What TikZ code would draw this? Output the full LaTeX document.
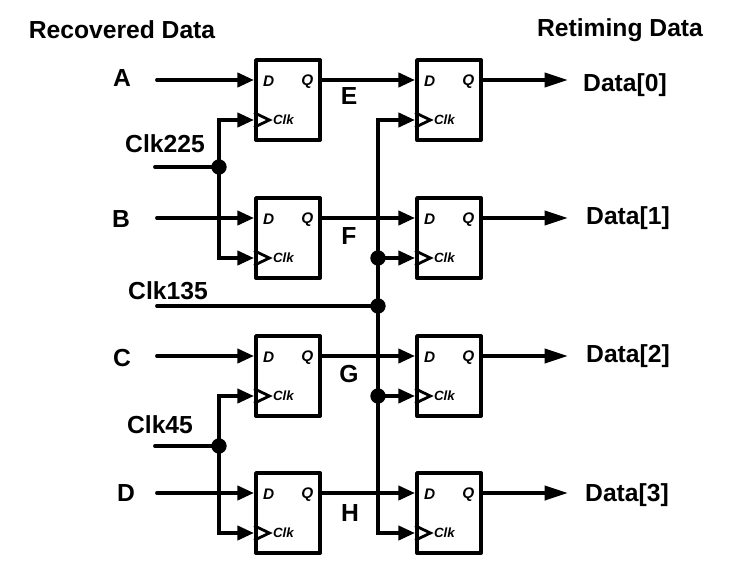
\documentclass[tikz,border=0pt]{standalone}
\usepackage{fontspec}
\setmainfont{Liberation Sans}
\usetikzlibrary{arrows.meta}
\newcommand{\flipflop}[3]{%
  \node[ffbox] (#1) at (#2,#3) {};
  \coordinate (#1d) at ([yshift=15pt]#1.west);
  \coordinate (#1c) at ([yshift=-15pt]#1.west);
  \coordinate (#1q) at ([yshift=15pt]#1.east);
  \draw[clktri] ([yshift=5.5pt]#1c) -- ([xshift=11.5pt]#1c) -- ([yshift=-5.5pt]#1c);
  \node[pinlab] (#1dl) at ([xshift=11pt,yshift=-1pt]#1d) {D};
  \node[pinlab] (#1ql) at ([xshift=-11pt,yshift=-1pt]#1q) {Q};
  \node[clklab] (#1cl) at ([xshift=22pt]#1c) {Clk};
}
\tikzset{
  x=0.75pt,y=-0.75pt,
  ffbox/.style={draw,line width=2.9pt,minimum width=48pt,minimum height=60pt,inner sep=0pt,line join=round},
  clktri/.style={line width=2.1pt,line join=miter},
  pinlab/.style={font=\fontsize{11.5pt}{13pt}\selectfont\bfseries\itshape,inner sep=0pt},
  clklab/.style={font=\fontsize{10pt}{12pt}\selectfont\bfseries\itshape,inner sep=0pt},
  lab/.style={font=\fontsize{18.5pt}{20pt}\selectfont\bfseries,inner sep=0pt},
  wire/.style={line width=2.9pt,line cap=round},
  sigwire/.style={wire,-{Triangle[length=12.5pt,width=10.5pt]}},
  outwire/.style={wire,-{Triangle[length=17.5pt,width=10.5pt]}},
  dot/.style={circle,fill=black,draw=none,minimum size=11.5pt,inner sep=0pt},
}
\begin{document}
\begin{tikzpicture}
\useasboundingbox (0,0) rectangle (735,568);
\flipflop{a}{288}{100}
\flipflop{b}{288}{238}
\flipflop{c}{288}{376}
\flipflop{d}{288}{513}
\flipflop{e}{449}{100}
\flipflop{f}{449}{238}
\flipflop{g}{449}{376}
\flipflop{h}{449}{513}
% free ends
\coordinate (ina) at (157,80);
\coordinate (inb) at (157,218);
\coordinate (inc) at (157,356);
\coordinate (ind) at (157,493);
\coordinate (in225) at (155,167);
\coordinate (in135) at (157,306);
\coordinate (in45) at (155,446);
\coordinate (out0) at (568,80);
\coordinate (out1) at (568,218);
\coordinate (out2) at (568,356);
\coordinate (out3) at (568,493);
% junctions
\node[dot] (j225) at (219,167) {};
\node[dot] (j45) at (219,446) {};
\node[dot] (j135) at (378,306) {};
\node[dot] (jf) at (378,258) {};
\node[dot] (jg) at (378,396) {};
% clock buses
\draw[wire] (j135.center) -- (in135);
\draw[wire] (j225.center) -- (in225);
\draw[wire] (j45.center) -- (in45);
\draw[sigwire] (j225.center) |- (ac);
\draw[sigwire] (j225.center) |- (bc);
\draw[sigwire] (j45.center) |- (cc);
\draw[sigwire] (j45.center) |- (dc);
\draw[sigwire] (j135.center) |- (ec);
\draw[sigwire] (j135.center) |- (hc);
\draw[sigwire] (jf.center) -- (fc);
\draw[sigwire] (jg.center) -- (gc);
% data
\draw[sigwire] (ina) -- (ad);
\draw[sigwire] (inb) -- (bd);
\draw[sigwire] (inc) -- (cd);
\draw[sigwire] (ind) -- (dd);
\draw[sigwire] (aq) -- (ed);
\draw[sigwire] (bq) -- (fd);
\draw[sigwire] (cq) -- (gd);
\draw[sigwire] (dq) -- (hd);
\draw[outwire] (eq) -- (out0);
\draw[outwire] (fq) -- (out1);
\draw[outwire] (gq) -- (out2);
\draw[outwire] (hq) -- (out3);
% labels
\node[lab] (t1) at (122,30) {Recovered Data};
\node[lab] (t2) at (620,30) {Retiming Data};
\node[lab] (la) at (122,78) {A};
\node[lab] (lb) at (121,219) {B};
\node[lab] (lc) at (122,358) {C};
\node[lab] (ld) at (126,493) {D};
\node[lab] (l225) at (165,144) {Clk225};
\node[lab] (l135) at (168,291) {Clk135};
\node[lab] (l45) at (160,425) {Clk45};
\node[lab] (le) at (349,96) {E};
\node[lab] (lf) at (349,236) {F};
\node[lab] (lg) at (349,374) {G};
\node[lab] (lh) at (350,513) {H};
\node[lab] (d0) at (625,85) {Data[0]};
\node[lab] (d1) at (628,218) {Data[1]};
\node[lab] (d2) at (628,356) {Data[2]};
\node[lab] (d3) at (627,495) {Data[3]};
\end{tikzpicture}
\end{document}
